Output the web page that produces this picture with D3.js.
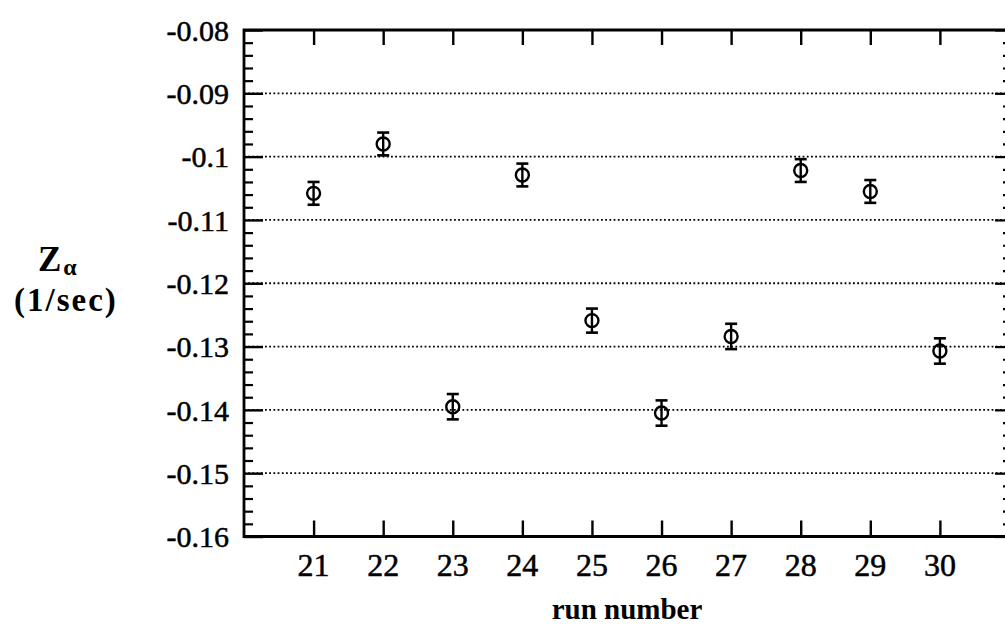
<!DOCTYPE html>
<html>
<head>
<meta charset="utf-8">
<script src="https://cdn.jsdelivr.net/npm/d3@7"></script>
<style>
  html, body { margin: 0; padding: 0; background: #fff; }
  svg { display: block; }
  text { font-family: "Liberation Serif", "Times New Roman", serif; fill: #000; }
</style>
</head>
<body>
<svg id="chart" width="1005" height="628"></svg>
<script>
// ---- data ----
const runs = [21, 22, 23, 24, 25, 26, 27, 28, 29, 30];
const zAlpha = [-0.1058, -0.0980, -0.1395, -0.1029, -0.1259, -0.1405, -0.1284, -0.1022, -0.1055, -0.1307];
const zErr = [0.0018, 0.0018, 0.0020, 0.0018, 0.0019, 0.0020, 0.0020, 0.0018, 0.0018, 0.0020];
const yTicks = [-0.08, -0.09, -0.1, -0.11, -0.12, -0.13, -0.14, -0.15, -0.16];
const yTickLabels = ["-0.08", "-0.09", "-0.1", "-0.11", "-0.12", "-0.13", "-0.14", "-0.15", "-0.16"];
const xTicks = runs;
const xLabel = "run number";

// ---- layout ----
const svg = d3.select("#chart");
const L = 244, R = 1006, T = 30, B = 536.5;
const x = d3.scaleLinear().domain([20, 30.95]).range([L, R]);
const y = d3.scaleLinear().domain([-0.16, -0.08]).range([B, T]);
const minorTicks = d3.range(0, 41).map(i => -0.16 + i * 0.002).filter(v => Math.abs(Math.round(v * 100) - v * 100) > 1e-6);

const g = svg.append("g");

// gridlines (dotted) at interior majors
g.append("g").selectAll("line").data(yTicks.slice(1, -1)).join("line")
  .attr("x1", L).attr("x2", R)
  .attr("y1", d => y(d)).attr("y2", d => y(d))
  .attr("stroke", "#000").attr("stroke-width", 1.8)
  .attr("stroke-dasharray", "1.8,2.4");

// left axis
const leftAxis = d3.axisRight(y).tickValues(yTicks).tickSize(19).tickFormat("");
const la = g.append("g").attr("transform", `translate(${L},0)`).call(leftAxis);
la.select(".domain").remove();
la.selectAll("line").attr("stroke-width", 2.4);
const leftMinor = d3.axisRight(y).tickValues(minorTicks).tickSize(9).tickFormat("");
const lm = g.append("g").attr("transform", `translate(${L},0)`).call(leftMinor);
lm.select(".domain").remove();
lm.selectAll("line").attr("stroke-width", 2.2);

// left labels
g.append("g").selectAll("text").data(yTicks).join("text")
  .attr("x", 229).attr("y", d => y(d))
  .attr("dy", "0.36em")
  .attr("text-anchor", "end")
  .attr("font-size", 30)
  .attr("stroke", "#000").attr("stroke-width", 0.5)
  .text((d, i) => yTickLabels[i]);

// right axis ticks
const rightAxis = d3.axisLeft(y).tickValues(yTicks).tickSize(11).tickFormat("");
const ra = g.append("g").attr("transform", `translate(${R},0)`).call(rightAxis);
ra.select(".domain").remove();
ra.selectAll("line").attr("stroke-width", 2.2);
const rightMinor = d3.axisLeft(y).tickValues(minorTicks).tickSize(3).tickFormat("");
const rm = g.append("g").attr("transform", `translate(${R},0)`).call(rightMinor);
rm.select(".domain").remove();
rm.selectAll("line").attr("stroke-width", 2.2);

// top ticks
const topAxis = d3.axisBottom(x).tickValues(xTicks).tickSize(15).tickFormat("");
const ta = g.append("g").attr("transform", `translate(0,${T})`).call(topAxis);
ta.select(".domain").remove();
ta.selectAll("line").attr("stroke-width", 2.4);

// bottom ticks + labels
const bottomAxis = d3.axisTop(x).tickValues(xTicks).tickSize(16).tickFormat("");
const ba = g.append("g").attr("transform", `translate(0,${B})`).call(bottomAxis);
ba.select(".domain").remove();
ba.selectAll("line").attr("stroke-width", 2.4);

g.append("g").selectAll("text").data(xTicks).join("text")
  .attr("x", d => x(d)).attr("y", 576)
  .attr("text-anchor", "middle")
  .attr("font-size", 32)
  .attr("stroke", "#000").attr("stroke-width", 0.5)
  .text(d => d);

// frame
g.append("path")
  .attr("d", `M${R},${T}H${L}V${B}H${R}`)
  .attr("fill", "none").attr("stroke", "#000").attr("stroke-width", 2.8);

// data: error bars + circles
const pts = runs.map((r, i) => ({ r, v: zAlpha[i], e: zErr[i] }));
const pg = g.append("g").selectAll("g").data(pts).join("g");
pg.append("line")
  .attr("x1", d => x(d.r)).attr("x2", d => x(d.r))
  .attr("y1", d => y(d.v + d.e)).attr("y2", d => y(d.v - d.e))
  .attr("stroke", "#000").attr("stroke-width", 2.4);
pg.append("line")
  .attr("x1", d => x(d.r) - 6).attr("x2", d => x(d.r) + 6)
  .attr("y1", d => y(d.v + d.e)).attr("y2", d => y(d.v + d.e))
  .attr("stroke", "#000").attr("stroke-width", 2.6);
pg.append("line")
  .attr("x1", d => x(d.r) - 6).attr("x2", d => x(d.r) + 6)
  .attr("y1", d => y(d.v - d.e)).attr("y2", d => y(d.v - d.e))
  .attr("stroke", "#000").attr("stroke-width", 2.6);
pg.append("circle")
  .attr("cx", d => x(d.r)).attr("cy", d => y(d.v))
  .attr("r", 6.5).attr("fill", "none")
  .attr("stroke", "#000").attr("stroke-width", 2.4);

// axis titles
g.append("text")
  .attr("x", 627).attr("y", 619)
  .attr("text-anchor", "middle")
  .attr("font-size", 29).attr("font-weight", "bold")
  .text(xLabel);

const zt = g.append("text")
  .attr("x", 38).attr("y", 271)
  .attr("font-size", 35).attr("font-weight", "bold");
zt.append("tspan").text("Z");
zt.append("tspan").attr("dx", 2).attr("dy", 4).attr("font-size", 24).text("α");

g.append("text")
  .attr("x", 14).attr("y", 311)
  .attr("font-size", 33).attr("font-weight", "bold")
  .attr("letter-spacing", 2)
  .text("(1/sec)");
</script>
</body>
</html>
